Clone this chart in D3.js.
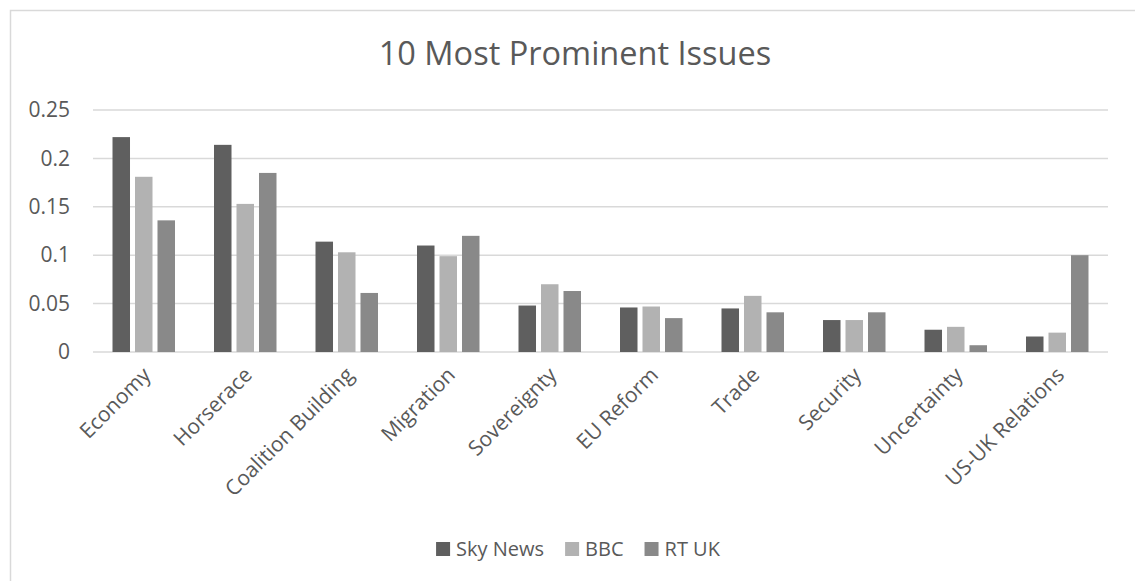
<!DOCTYPE html>
<html>
<head>
<meta charset="utf-8">
<script src="https://cdn.jsdelivr.net/npm/d3@7"></script>
<style>
  body { margin: 0; background: #fff; }
  svg { display: block; font-family: "Open Sans", sans-serif; }
  .axis text { fill: #595959; }
</style>
</head>
<body>
<div class="layout"></div>
<script>
var categories = ["Economy", "Horserace", "Coalition Building", "Migration", "Sovereignty",
                  "EU Reform", "Trade", "Security", "Uncertainty", "US-UK Relations"];
var seriesNames = ["Sky News", "BBC", "RT UK"];
var skyNews = [0.222, 0.214, 0.114, 0.110, 0.048, 0.046, 0.045, 0.033, 0.023, 0.016];
var bbc     = [0.181, 0.153, 0.103, 0.099, 0.070, 0.047, 0.058, 0.033, 0.026, 0.020];
var rtUk    = [0.136, 0.185, 0.061, 0.120, 0.063, 0.035, 0.041, 0.041, 0.007, 0.100];
var yTicks  = [0, 0.05, 0.1, 0.15, 0.2, 0.25];
var colors  = ["#5f5f5f", "#b2b2b2", "#898989"];

var W = 1135, H = 581;
var margin = {top: 110, right: 27, bottom: 229, left: 93},
    width = W - margin.left - margin.right,
    height = H - margin.top - margin.bottom;

var series = [skyNews, bbc, rtUk];

var x = d3.scaleBand()
        .domain(categories)
        .range([0, width]);

var xInner = d3.scaleBand()
        .domain(seriesNames)
        .range([0, x.bandwidth()])
        .paddingInner(0.222)
        .paddingOuter(0.867);

var y = d3.scaleLinear()
        .domain([0, 0.25])
        .range([height, 0]);

var color = d3.scaleOrdinal().domain(seriesNames).range(colors);

var root = d3.select(".layout").append("svg")
        .attr("width", W)
        .attr("height", H);

// chart frame (only top and left edges fall inside the picture)
root.append("path")
        .attr("d", "M10.5," + H + "V10.5H" + W)
        .attr("fill", "none")
        .attr("stroke", "#d9d9d9")
        .attr("stroke-width", 1.5);

root.append("text")
        .attr("x", 575)
        .attr("y", 65)
        .attr("text-anchor", "middle")
        .style("font-size", "32.5px")
        .style("fill", "#595959")
        .text("10 Most Prominent Issues");

var svg = root.append("g")
        .attr("transform", "translate(" + margin.left + "," + margin.top + ")");

// gridlines
svg.append("g")
        .attr("class", "grid")
        .selectAll("line")
        .data(yTicks)
        .enter().append("line")
        .attr("x1", 0)
        .attr("x2", width)
        .attr("y1", function(d) { return y(d); })
        .attr("y2", function(d) { return y(d); })
        .attr("stroke", "#d9d9d9")
        .attr("stroke-width", 1.5);

var yAxis = d3.axisLeft(y)
        .tickValues(yTicks)
        .tickSize(0)
        .tickPadding(23)
        .tickFormat(function(d) { return d === 0 ? "0" : String(+d.toFixed(2)); });

svg.append("g")
        .attr("class", "y axis")
        .call(yAxis)
        .call(function(g) { g.select(".domain").remove(); })
        .selectAll("text")
        .style("font-size", "21px")
        .style("font-family", "'Open Sans', sans-serif");

// bars
var groups = svg.append("g")
        .selectAll("g")
        .data(categories)
        .enter().append("g")
        .attr("transform", function(d) { return "translate(" + x(d) + ",0)"; });

groups.selectAll("rect")
        .data(function(d, i) {
            return seriesNames.map(function(s, j) { return {key: s, value: series[j][i]}; });
        })
        .enter().append("rect")
        .attr("x", function(d) { return xInner(d.key); })
        .attr("y", function(d) { return y(d.value); })
        .attr("width", xInner.bandwidth())
        .attr("height", function(d) { return height - y(d.value); })
        .attr("fill", function(d) { return color(d.key); });

var xAxis = d3.axisBottom(x)
        .tickSize(0)
        .tickPadding(0);

svg.append("g")
        .attr("class", "x axis")
        .attr("transform", "translate(0," + height + ")")
        .call(xAxis)
        .call(function(g) { g.select(".domain").remove(); })
        .selectAll("text")
        .style("font-size", "21px")
        .style("font-family", "'Open Sans', sans-serif")
        .attr("text-anchor", "end")
        .attr("dy", "0.35em")
        .attr("transform", "translate(3,19) rotate(-45)");

// legend
var legend = root.append("g")
        .attr("class", "legend");

var items = legend.selectAll("g")
        .data(seriesNames)
        .enter().append("g");

items.append("rect")
        .attr("width", 14)
        .attr("height", 14)
        .attr("y", -14)
        .attr("fill", function(d) { return color(d); });

items.append("text")
        .attr("x", 20)
        .attr("y", 0)
        .style("font-size", "20px")
        .style("fill", "#595959")
        .text(function(d) { return d; });

var offset = 0;
items.each(function() {
    var g = d3.select(this);
    g.attr("transform", "translate(" + offset + ",0)");
    offset += 20 + g.select("text").node().getComputedTextLength() + 21;
});
legend.attr("transform", "translate(" + (578 - (offset - 21) / 2) + ",556)");
</script>
</body>
</html>
